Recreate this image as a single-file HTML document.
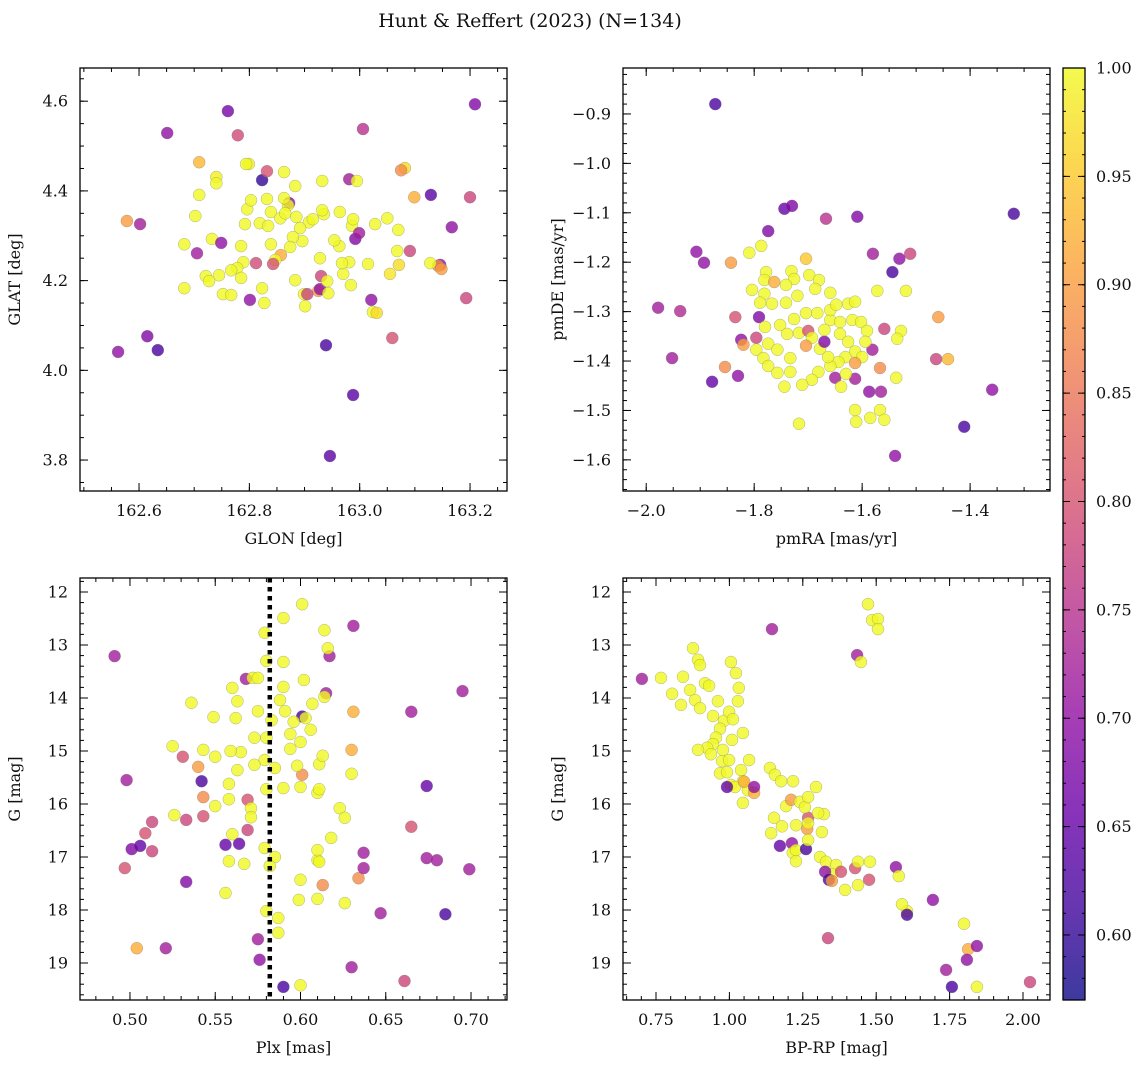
<!DOCTYPE html>
<html><head><meta charset="utf-8"><style>
body{margin:0;background:#fff;}
svg text{font-family:"DejaVu Serif","Liberation Serif",serif;fill:#111;}
</style></head><body>
<svg id="fig" width="1148" height="1068" xmlns="http://www.w3.org/2000/svg">
<defs><linearGradient id="plasma" x1="0" y1="1" x2="0" y2="0">
<stop offset="0" stop-color="#0d0887"/><stop offset="0.1" stop-color="#41049d"/><stop offset="0.2" stop-color="#6a00a8"/><stop offset="0.3" stop-color="#8f0da4"/><stop offset="0.4" stop-color="#b12a90"/><stop offset="0.5" stop-color="#cc4778"/><stop offset="0.6" stop-color="#e16462"/><stop offset="0.7" stop-color="#f2844b"/><stop offset="0.8" stop-color="#fca636"/><stop offset="0.9" stop-color="#fcce25"/><stop offset="1" stop-color="#f0f921"/></linearGradient></defs>
<text x="530" y="27" font-size="19" text-anchor="middle">Hunt &amp; Reffert (2023) (N=134)</text>
</svg>
<script>
// Panel 1: GLON vs GLAT
const p1x=[163.209,162.761,162.651,162.779,163.006,162.709,162.799,162.794,162.863,163.082,163.075,162.740,162.740,162.932,162.981,162.995,162.823,162.832,162.578,162.602,162.702,162.709,162.872,162.870,163.129,163.099,163.200,162.732,162.682,162.705,162.749,162.785,162.796,162.819,162.792,162.839,162.834,162.856,162.865,162.885,162.908,162.915,162.935,162.932,162.986,162.992,162.999,163.028,163.050,163.070,163.071,163.167,163.146,163.142,163.091,163.068,163.128,163.148,162.988,162.964,162.963,162.954,162.981,162.928,162.892,162.896,162.879,162.874,162.839,162.857,162.847,162.843,162.812,162.789,162.778,162.785,162.767,162.745,162.721,162.727,162.682,162.752,162.767,162.801,162.823,162.827,162.883,162.899,162.901,162.925,162.930,162.928,162.905,162.941,162.943,162.970,162.968,162.984,163.015,163.021,163.024,163.031,163.055,163.059,163.193,162.562,162.615,162.634,162.939,162.988,162.946,162.883,162.863,162.832,162.803];
const p1y=[4.593,4.578,4.529,4.524,4.538,4.464,4.460,4.460,4.442,4.451,4.446,4.431,4.417,4.422,4.426,4.422,4.424,4.444,4.333,4.326,4.344,4.391,4.373,4.368,4.391,4.386,4.386,4.293,4.281,4.261,4.284,4.277,4.359,4.328,4.326,4.353,4.322,4.339,4.350,4.342,4.330,4.337,4.348,4.357,4.322,4.293,4.306,4.326,4.339,4.313,4.235,4.319,4.235,4.233,4.266,4.266,4.239,4.226,4.337,4.353,4.277,4.290,4.241,4.250,4.317,4.288,4.297,4.275,4.281,4.257,4.246,4.237,4.239,4.241,4.228,4.206,4.223,4.212,4.210,4.199,4.183,4.170,4.168,4.157,4.183,4.150,4.201,4.170,4.143,4.177,4.210,4.181,4.170,4.199,4.172,4.215,4.239,4.190,4.237,4.157,4.130,4.128,4.215,4.072,4.161,4.041,4.076,4.045,4.056,3.945,3.809,4.411,4.384,4.382,4.379];
const p1c=[.68,.67,.70,.79,.75,.93,.99,1,1,.97,.88,.99,1,1,.72,1,.60,.80,.90,.72,1,1,.70,1,.64,.92,.78,1,1,.72,.70,1,1,1,1,1,1,1,1,1,1,1,1,1,1,.68,.72,1,1,1,.97,.70,.70,.88,.78,1,1,.90,1,1,1,1,1,1,1,1,1,1,1,.92,1,.80,.79,1,1,1,1,1,1,1,1,1,1,.70,1,1,1,1,1,.90,.78,.70,.78,1,1,1,1,1,1,.70,1,.97,.98,.80,.78,.70,.68,.62,.62,.64,.64,1,1,1,1];
// Panel 2: pmRA vs pmDE
const p2x=[-1.872,-1.319,-1.744,-1.730,-1.667,-1.609,-1.774,-1.907,-1.893,-1.843,-1.809,-1.787,-1.580,-1.511,-1.531,-1.544,-1.519,-1.572,-1.978,-1.937,-1.835,-1.791,-1.459,-1.952,-1.878,-1.854,-1.824,-1.830,-1.820,-1.796,-1.463,-1.441,-1.528,-1.559,-1.537,-1.359,-1.411,-1.539,-1.717,-1.613,-1.650,-1.587,-1.565,-1.581,-1.778,-1.781,-1.731,-1.726,-1.763,-1.704,-1.698,-1.804,-1.781,-1.789,-1.767,-1.741,-1.720,-1.741,-1.680,-1.687,-1.704,-1.683,-1.726,-1.752,-1.780,-1.739,-1.717,-1.796,-1.774,-1.757,-1.733,-1.783,-1.774,-1.733,-1.700,-1.693,-1.678,-1.704,-1.659,-1.659,-1.659,-1.641,-1.641,-1.670,-1.670,-1.626,-1.613,-1.618,-1.602,-1.591,-1.626,-1.613,-1.600,-1.631,-1.644,-1.659,-1.663,-1.630,-1.613,-1.594,-1.567,-1.535,-1.681,-1.693,-1.711,-1.639,-1.613,-1.585,-1.567,-1.559,-1.611,-1.744,-1.757,-1.648];
const p2y=[-0.880,-1.102,-1.092,-1.086,-1.112,-1.108,-1.137,-1.179,-1.201,-1.201,-1.181,-1.167,-1.183,-1.183,-1.193,-1.220,-1.258,-1.258,-1.292,-1.299,-1.311,-1.311,-1.311,-1.394,-1.442,-1.412,-1.357,-1.430,-1.367,-1.353,-1.396,-1.396,-1.339,-1.335,-1.434,-1.458,-1.533,-1.592,-1.527,-1.436,-1.434,-1.462,-1.462,-1.377,-1.220,-1.236,-1.218,-1.234,-1.240,-1.193,-1.226,-1.256,-1.264,-1.282,-1.284,-1.282,-1.268,-1.246,-1.236,-1.254,-1.303,-1.303,-1.315,-1.327,-1.331,-1.345,-1.343,-1.377,-1.365,-1.377,-1.394,-1.394,-1.410,-1.422,-1.339,-1.353,-1.375,-1.369,-1.317,-1.297,-1.262,-1.321,-1.345,-1.361,-1.337,-1.284,-1.280,-1.317,-1.321,-1.339,-1.361,-1.381,-1.392,-1.392,-1.402,-1.410,-1.392,-1.426,-1.404,-1.361,-1.414,-1.355,-1.422,-1.438,-1.448,-1.452,-1.499,-1.515,-1.499,-1.519,-1.523,-1.452,-1.424,-1.286];
const p2c=[.62,.62,.65,.68,.75,.68,.68,.70,.70,.90,1,1,.72,.78,.70,.62,1,1,.72,.74,.80,.68,.90,.72,.65,.88,.70,.70,.90,.78,.78,.93,1,.78,1,.70,.62,.70,1,.72,.72,.70,.72,.72,1,1,1,1,.92,.95,1,1,1,1,1,1,1,1,1,1,1,1,1,1,1,1,1,1,1,1,1,1,1,1,.80,1,1,.90,1,1,1,1,1,.68,1,1,1,1,1,1,1,1,1,1,1,1,1,1,.90,1,.88,1,1,1,1,1,1,1,1,1,1,1,1,1];
// Panel 3: Plx vs G
const p3x=[0.491,0.498,0.497,0.501,0.506,0.509,0.513,0.513,0.504,0.521,0.531,0.533,0.533,0.540,0.542,0.543,0.543,0.556,0.564,0.569,0.569,0.568,0.575,0.576,0.590,0.601,0.601,0.615,0.617,0.613,0.634,0.637,0.637,0.630,0.631,0.630,0.631,0.647,0.661,0.665,0.665,0.674,0.674,0.680,0.685,0.695,0.699,0.601,0.590,0.614,0.579,0.616,0.580,0.590,0.602,0.572,0.575,0.590,0.588,0.560,0.607,0.614,0.536,0.549,0.562,0.563,0.575,0.583,0.591,0.596,0.606,0.600,0.594,0.603,0.580,0.573,0.594,0.579,0.565,0.559,0.543,0.525,0.550,0.573,0.563,0.585,0.598,0.611,0.613,0.630,0.580,0.590,0.600,0.610,0.611,0.558,0.558,0.550,0.571,0.571,0.526,0.623,0.626,0.618,0.560,0.579,0.585,0.582,0.567,0.558,0.610,0.611,0.610,0.600,0.610,0.626,0.556,0.580,0.587,0.599,0.587,0.600];
const p3y=[13.21,15.55,17.21,16.85,16.79,16.55,16.89,16.34,18.72,18.72,15.11,16.30,17.47,15.30,15.57,15.87,16.23,16.77,16.75,16.49,15.92,13.64,18.55,18.94,19.45,15.45,14.35,13.91,13.21,17.53,17.40,17.21,16.92,14.98,14.26,19.08,12.64,18.06,19.34,16.43,14.26,15.66,17.02,17.06,18.08,13.87,17.23,12.23,12.49,12.72,12.77,13.06,13.30,13.32,13.66,13.62,13.62,13.79,14.04,13.81,14.11,13.98,14.09,14.36,14.38,14.06,14.25,14.42,14.25,14.45,14.60,14.83,14.68,14.38,14.75,14.75,14.96,15.17,15.02,15.00,14.98,14.91,15.11,15.26,15.36,15.32,15.28,15.25,15.09,15.43,15.72,15.70,15.68,15.79,15.72,15.62,15.91,16.04,16.08,16.25,16.21,16.08,16.26,16.64,16.57,16.83,17.00,17.17,17.13,17.08,17.06,17.09,16.87,17.43,17.79,17.87,17.68,18.02,18.15,17.81,18.43,19.42];
const p3c=[.72,.72,.80,.68,.65,.80,.78,.78,.92,.72,.80,.78,.68,.90,.62,.88,.80,.65,.65,.78,.80,.72,.72,.70,.62,.88,.62,.72,.72,.88,.88,.72,.72,.92,.92,.72,.72,.72,.78,.80,.72,.65,.72,.72,.62,.72,.72,1,1,1,1,1,1,1,1,1,1,1,1,1,1,1,1,1,1,1,1,1,1,1,1,1,1,1,1,1,1,1,1,1,1,1,1,1,1,1,1,1,1,1,1,1,1,1,1,1,1,1,1,1,1,1,1,1,1,1,1,1,1,1,1,1,1,1,1,1,1,1,1,1,1,1];
// Panel 4: BP-RP vs G
const p4x=[0.702,0.767,0.876,0.893,0.900,0.805,0.842,0.866,0.917,0.931,0.835,0.883,0.900,0.944,0.961,1.005,1.022,1.032,1.029,0.982,0.968,0.954,0.944,0.924,0.893,0.937,0.975,0.968,0.992,0.999,0.978,1.009,0.999,1.012,1.046,1.067,1.040,1.046,1.005,1.019,1.063,1.046,1.050,1.084,0.992,1.084,1.145,1.435,1.448,1.472,1.486,1.506,1.506,1.138,1.155,1.176,1.193,1.142,1.152,1.210,1.227,1.268,1.265,1.172,1.213,1.216,1.227,1.261,1.268,1.268,1.315,1.322,1.217,1.240,1.257,1.295,1.302,1.268,1.179,1.227,1.309,1.329,1.363,1.349,1.326,1.339,1.349,1.380,1.394,1.428,1.438,1.476,1.438,1.479,1.336,1.567,1.577,1.605,1.588,1.605,1.693,1.738,1.799,1.813,1.809,1.843,1.843,1.758,2.024];
const p4y=[13.64,13.62,13.06,13.28,13.38,13.92,13.60,13.85,13.72,13.77,14.13,14.04,14.19,14.34,14.06,13.32,13.53,13.81,14.06,14.43,14.58,14.75,14.87,14.94,14.98,15.06,15.19,15.42,15.40,15.17,14.98,14.79,14.26,14.40,14.66,15.17,15.36,15.57,15.64,15.68,15.74,15.98,15.58,15.79,15.68,15.68,12.70,13.19,13.32,12.23,12.53,12.51,12.70,15.32,15.45,15.57,16.04,16.55,16.26,15.92,16.40,16.26,16.47,16.79,16.74,16.92,16.87,16.85,16.36,16.68,16.53,16.19,15.57,15.96,16.06,15.68,16.17,15.87,16.42,17.08,17.00,17.09,17.15,17.32,17.28,17.43,17.45,17.28,17.62,17.21,17.53,17.43,17.09,17.09,18.53,17.19,17.36,18.02,17.89,18.09,17.81,19.13,18.26,18.74,18.94,18.68,19.45,19.45,19.36];
const p4c=[.72,1,1,1,1,1,1,1,1,1,1,1,1,1,1,1,1,1,1,1,1,1,1,1,1,1,1,1,1,1,1,1,1,1,1,1,1,1,1,1,1,1,.92,.92,.65,.70,.72,.72,1,1,1,1,1,1,1,1,1,1,1,.90,1,.80,.90,.65,.70,1,1,.62,1,1,1,1,1,1,1,1,1,1,1,1,1,1,1,1,.70,.62,.90,.80,1,.80,1,.80,1,1,.78,.70,1,1,1,.62,.70,.72,1,.92,.70,.70,1,.62,.78];
const cbTicks=[0.60,0.65,0.70,0.75,0.80,0.85,0.90,0.95,1.00];

const NS="http://www.w3.org/2000/svg";
const svg=document.getElementById('fig');
const CMIN=0.57,CMAX=1.0;
const stops=[[13,8,135],[65,4,157],[106,0,168],[143,13,164],[177,42,144],[204,71,120],[225,100,98],[242,132,75],[252,166,54],[252,206,37],[240,249,33]];
function cmap(v){let t=(v-CMIN)/(CMAX-CMIN);t=Math.max(0,Math.min(1,t))*10;const i=Math.min(9,Math.floor(t)),f=t-i;const a=stops[i],b=stops[i+1];return 'rgb('+a.map((c,k)=>Math.round(c+(b[k]-c)*f)).join(',')+')';}
function el(tag,attrs,parent){const e=document.createElementNS(NS,tag);for(const k in attrs)e.setAttribute(k,attrs[k]);(parent||svg).appendChild(e);return e;}
function fmt(v,d){return (v<0?'\u2212':'')+Math.abs(v).toFixed(d);}

function panel(o){
  const g=el('g',{});
  
  
  const sx=v=>o.L+(v-o.x0)/(o.x1-o.x0)*(o.R-o.L);
  const sy=v=>o.B-(v-o.y0)/(o.y1-o.y0)*(o.B-o.T);
  const pg=el('g',{},g);
  
  
  for(let i=0;i<o.xs.length;i++){
    const c=el('circle',{cx:sx(o.xs[i]).toFixed(1),cy:sy(o.ys[i]).toFixed(1),r:6,fill:cmap(o.cs[i]),'fill-opacity':0.8,stroke:'#777','stroke-width':0.4,'stroke-opacity':0.7},pg);
    
    
  }
  if(o.vline!==undefined){
    const l=el('line',{x1:sx(o.vline),x2:sx(o.vline),y1:o.T,y2:o.B,stroke:'#000','stroke-width':4.5,'stroke-dasharray':'4.5,4.5'},g);
    
    
  }
  const fr=el('rect',{x:o.L,y:o.T,width:o.R-o.L,height:o.B-o.T,fill:'none',stroke:'#000','stroke-width':1.3},g);
  
  
  function xt(v,len){const x=sx(v);if(x<o.L-0.5||x>o.R+0.5)return;el('line',{x1:x,x2:x,y1:o.B,y2:o.B-len,stroke:'#000','stroke-width':1},g);el('line',{x1:x,x2:x,y1:o.T,y2:o.T+len,stroke:'#000','stroke-width':1},g);}
  function yt(v,len){const y=sy(v);if(y<o.T-0.5||y>o.B+0.5)return;el('line',{x1:o.L,x2:o.L+len,y1:y,y2:y,stroke:'#000','stroke-width':1},g);el('line',{x1:o.R,x2:o.R-len,y1:y,y2:y,stroke:'#000','stroke-width':1},g);}
  const xlo=Math.min(o.x0,o.x1),xhi=Math.max(o.x0,o.x1),ylo=Math.min(o.y0,o.y1),yhi=Math.max(o.y0,o.y1);
  for(let v=Math.ceil(xlo/o.xm)*o.xm;v<=xhi;v+=o.xm)xt(v,4);
  for(let v=Math.ceil(ylo/o.ym)*o.ym;v<=yhi;v+=o.ym)yt(v,4);
  o.xticks.forEach(v=>{xt(v,8);const t=el('text',{x:sx(v),y:o.B+25,'font-size':16,'text-anchor':'middle'},g);t.textContent=fmt(v,o.xd);});
  o.yticks.forEach(v=>{yt(v,8);const t=el('text',{x:o.L-12,y:sy(v)+5.5,'font-size':16,'text-anchor':'end'},g);t.textContent=fmt(v,o.yd);});
  const xl=el('text',{x:(o.L+o.R)/2,y:o.B+53,'font-size':16,'text-anchor':'middle'},g);xl.textContent=o.xlabel;
  
  
  const yx=o.L-60,yy=(o.T+o.B)/2;
  const yl=el('text',{x:yx,y:yy,'font-size':16,'text-anchor':'middle',transform:'rotate(-90 '+yx+' '+yy+')'},g);yl.textContent=o.ylabel;
  
  
}
panel({name:'glon-glat-panel',L:80,R:507,T:68,B:491,x0:162.493,x1:163.267,y0:3.731,y1:4.674,xs:p1x,ys:p1y,cs:p1c,xticks:[162.6,162.8,163.0,163.2],yticks:[3.8,4.0,4.2,4.4,4.6],xm:0.05,ym:0.05,xd:1,yd:1,xlabel:'GLON [deg]',ylabel:'GLAT [deg]'});
panel({name:'proper-motion-panel',L:623,R:1050,T:68,B:491,x0:-2.043,x1:-1.252,y0:-1.663,y1:-0.807,xs:p2x,ys:p2y,cs:p2c,xticks:[-2.0,-1.8,-1.6,-1.4],yticks:[-1.6,-1.5,-1.4,-1.3,-1.2,-1.1,-1.0,-0.9],xm:0.05,ym:0.02,xd:1,yd:1,xlabel:'pmRA [mas/yr]',ylabel:'pmDE [mas/yr]'});
panel({name:'parallax-magnitude-panel',L:80,R:507,T:578,B:1000,x0:0.4707,x1:0.7211,y0:19.698,y1:11.736,xs:p3x,ys:p3y,cs:p3c,xticks:[0.50,0.55,0.60,0.65,0.70],yticks:[12,13,14,15,16,17,18,19],xm:0.01,ym:0.2,xd:2,yd:0,xlabel:'Plx [mas]',ylabel:'G [mag]',vline:0.582});
panel({name:'color-magnitude-panel',L:623,R:1050,T:578,B:1000,x0:0.6376,x1:2.092,y0:19.698,y1:11.736,xs:p4x,ys:p4y,cs:p4c,xticks:[0.75,1.00,1.25,1.50,1.75,2.00],yticks:[12,13,14,15,16,17,18,19],xm:0.05,ym:0.2,xd:2,yd:0,xlabel:'BP-RP [mag]',ylabel:'G [mag]'});

const cb=el('g',{});


const CL=1063,CR=1085,CT=68,CB=1000;
el('rect',{x:CL,y:CT,width:CR-CL,height:CB-CT,fill:'url(#plasma)','fill-opacity':0.8},cb);
el('rect',{x:CL,y:CT,width:CR-CL,height:CB-CT,fill:'none',stroke:'#000','stroke-width':1.3},cb);
const cy=v=>CB-(v-CMIN)/(CMAX-CMIN)*(CB-CT);
for(let v=0.57;v<=1.0001;v+=0.01){const y=cy(v);el('line',{x1:CR,x2:CR-3,y1:y,y2:y,stroke:'#000','stroke-width':1},cb);el('line',{x1:CL,x2:CL+3,y1:y,y2:y,stroke:'#000','stroke-width':1},cb);}
cbTicks.forEach(v=>{const y=cy(v);el('line',{x1:CR,x2:CR-7,y1:y,y2:y,stroke:'#000','stroke-width':1},cb);el('line',{x1:CL,x2:CL+7,y1:y,y2:y,stroke:'#000','stroke-width':1},cb);
const t=el('text',{x:CR+11,y:y+5.5,'font-size':16},cb);t.textContent=v.toFixed(2);

});
</script>
</body></html>
